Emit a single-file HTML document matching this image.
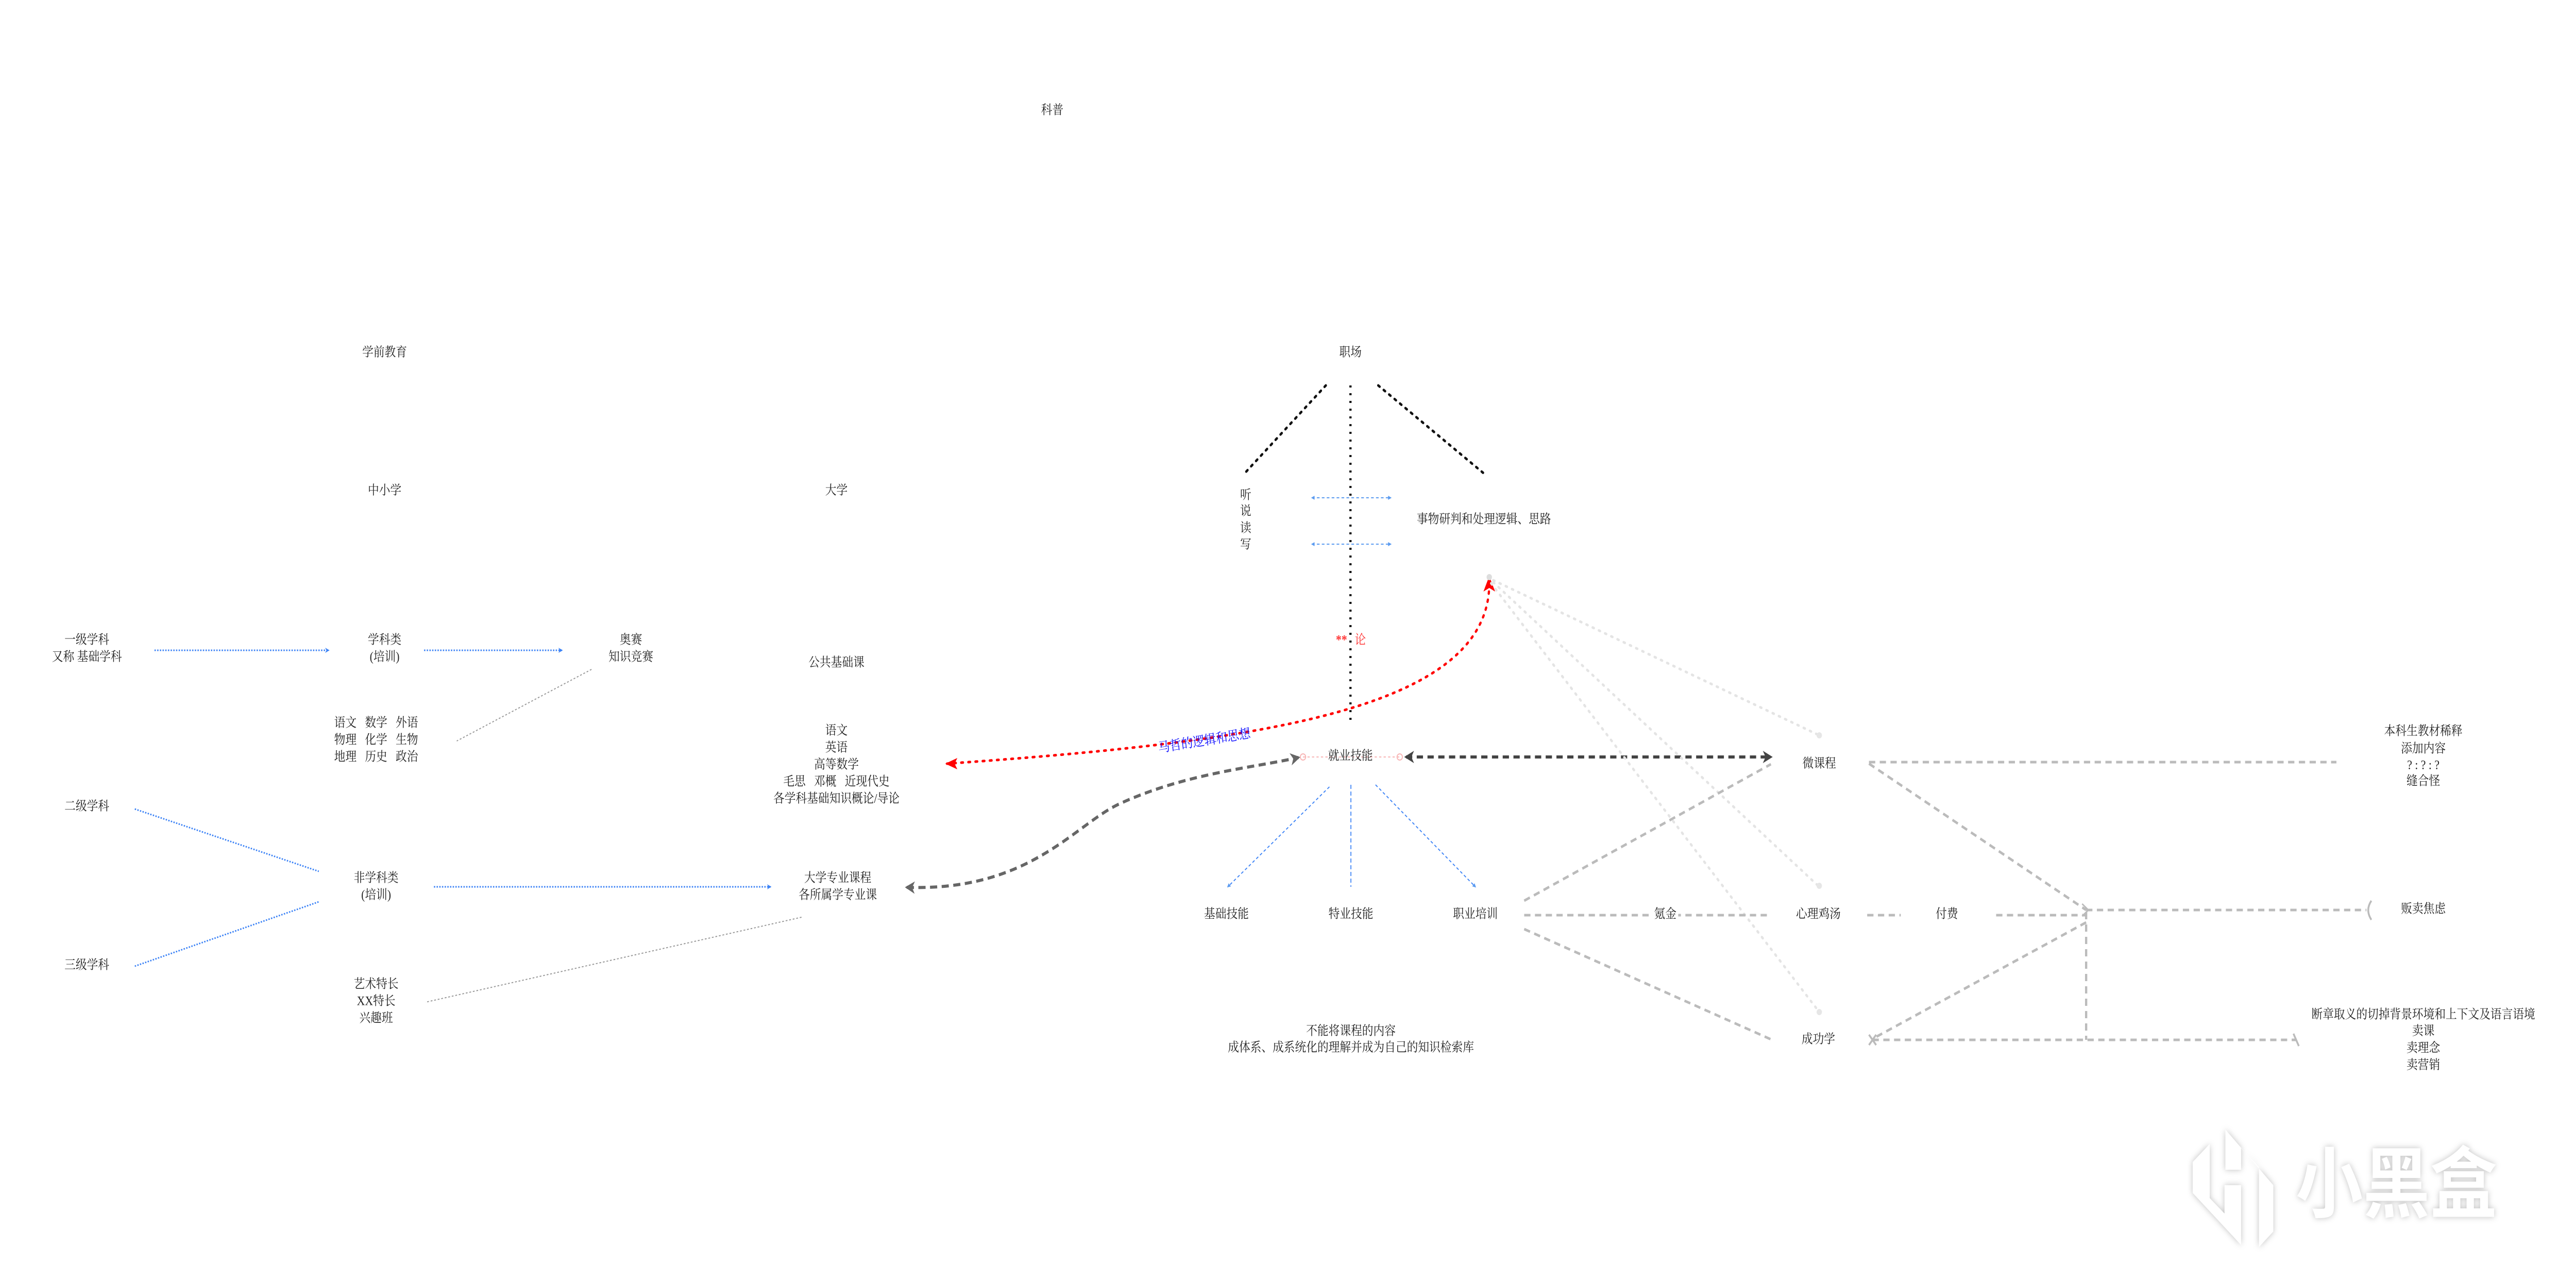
<!DOCTYPE html>
<html><head><meta charset="utf-8"><style>
html,body{margin:0;padding:0;background:#fff;width:100vw;height:100vh;overflow:hidden;}
svg{display:block;width:100vw;height:100vh;}
text{font-family:"Liberation Serif","Noto Serif CJK SC",serif;font-size:25px;fill:#222;text-anchor:middle;dominant-baseline:middle;}
</style></head><body>
<svg viewBox="0 0 5753 2484" preserveAspectRatio="none" xmlns="http://www.w3.org/2000/svg">
<defs>
<marker id="ab" markerWidth="10" markerHeight="10" refX="8" refY="5" orient="auto" markerUnits="userSpaceOnUse"><path d="M0,0 L10,5 L0,10 L3,5z" fill="#3b82f6"/></marker>
<marker id="abs" markerWidth="8" markerHeight="8" refX="6" refY="4" orient="auto-start-reverse" markerUnits="userSpaceOnUse"><path d="M0,0 L8,4 L0,8z" fill="#5b9bf0"/></marker>
<marker id="ad" markerWidth="22" markerHeight="24" refX="18" refY="12" orient="auto-start-reverse" markerUnits="userSpaceOnUse"><path d="M0,0 L22,12 L0,24 L6,12z" fill="#444"/></marker>
<marker id="ag" markerWidth="22" markerHeight="24" refX="18" refY="12" orient="auto-start-reverse" markerUnits="userSpaceOnUse"><path d="M0,0 L22,12 L0,24 L6,12z" fill="#666"/></marker>
</defs>

<text x="2350" y="216">科普</text>
<text x="859" y="686">学前教育</text>
<text x="3016" y="686">职场</text>
<text x="859" y="954">中小学</text>
<text x="1868" y="954">大学</text>

<text x="194" y="1244">一级学科</text>
<text x="194" y="1277">又称 基础学科</text>
<line x1="345" y1="1262" x2="734" y2="1262" stroke="#3b82f6" stroke-width="3" stroke-dasharray="3 3" marker-end="url(#ab)"/>
<text x="859" y="1244">学科类</text>
<text x="859" y="1277">(培训)</text>
<line x1="947" y1="1262" x2="1255" y2="1262" stroke="#3b82f6" stroke-width="3" stroke-dasharray="3 3" marker-end="url(#ab)"/>
<text x="1409" y="1244">奥赛</text>
<text x="1409" y="1277">知识竞赛</text>
<line x1="1321" y1="1299" x2="1020" y2="1438" stroke="#999" stroke-width="2" stroke-dasharray="4 4"/>
<text x="840" y="1405" xml:space="preserve">语文   数学   外语</text>
<text x="840" y="1438" xml:space="preserve">物理   化学   生物</text>
<text x="840" y="1471" xml:space="preserve">地理   历史   政治</text>

<text x="1868" y="1288">公共基础课</text>
<text x="1868" y="1420">语文</text>
<text x="1868" y="1453">英语</text>
<text x="1868" y="1486">高等数学</text>
<text x="1868" y="1519" xml:space="preserve">毛思   邓概   近现代史</text>
<text x="1868" y="1552">各学科基础知识概论/导论</text>

<text x="194" y="1567">二级学科</text>
<line x1="301" y1="1570" x2="712" y2="1691" stroke="#3b82f6" stroke-width="3" stroke-dasharray="3 3"/>
<text x="194" y="1875">三级学科</text>
<line x1="301" y1="1875" x2="712" y2="1750" stroke="#3b82f6" stroke-width="3" stroke-dasharray="3 3"/>
<text x="840" y="1706">非学科类</text>
<text x="840" y="1739">(培训)</text>
<line x1="969" y1="1721" x2="1721" y2="1721" stroke="#3b82f6" stroke-width="3" stroke-dasharray="3 3" marker-end="url(#ab)"/>
<text x="1871" y="1706">大学专业课程</text>
<text x="1871" y="1739">各所属学专业课</text>
<line x1="1790" y1="1780" x2="950" y2="1945" stroke="#999" stroke-width="2" stroke-dasharray="4 4"/>
<text x="840" y="1912">艺术特长</text>
<text x="840" y="1945">XX特长</text>
<text x="840" y="1978">兴趣班</text>

<line x1="2961" y1="748" x2="2777" y2="921" stroke="#111" stroke-width="5" stroke-dasharray="4 11" stroke-linecap="round"/>
<line x1="3016" y1="748" x2="3016" y2="1405" stroke="#111" stroke-width="5" stroke-dasharray="4 11"/>
<line x1="3078" y1="748" x2="3317" y2="921" stroke="#111" stroke-width="5" stroke-dasharray="4 11" stroke-linecap="round"/>
<text x="2782" y="963">听</text>
<text x="2782" y="994">说</text>
<text x="2782" y="1027">读</text>
<text x="2782" y="1059">写</text>
<line x1="2930" y1="966" x2="3106" y2="966" stroke="#5b9bf0" stroke-width="2" stroke-dasharray="6 5" marker-start="url(#abs)" marker-end="url(#abs)"/>
<line x1="2930" y1="1056" x2="3106" y2="1056" stroke="#5b9bf0" stroke-width="2" stroke-dasharray="6 5" marker-start="url(#abs)" marker-end="url(#abs)"/>
<text x="3314" y="1010">事物研判和处理逻辑、思路</text>
<text x="2996" y="1244" style="fill:#f33;font-weight:bold">**</text>
<text x="3038" y="1244" style="fill:#f33">论</text>

<path d="M3326,1132 C3326,1380 2800,1440 2115,1482" fill="none" stroke="#f00" stroke-width="5" stroke-dasharray="4 12" stroke-linecap="round"/>
<path d="M3326,1118 L3339,1148 L3326,1141 L3313,1148z" fill="#f00"/>
<path d="M2111,1482 L2138,1471 L2132,1482 L2138,1493z" fill="#f00"/>
<circle cx="3326" cy="1120" r="6" fill="#ddd"/>
<text x="2690" y="1440" transform="rotate(-8 2690 1440)" style="fill:#11f;font-size:26px">马哲的逻辑和思想</text>

<line x1="2910" y1="1469" x2="3126" y2="1469" stroke="#f8b4b4" stroke-width="2" stroke-dasharray="5 5"/>
<circle cx="2910" cy="1469" r="6" fill="none" stroke="#f8b4b4" stroke-width="2"/>
<circle cx="3126" cy="1469" r="6" fill="none" stroke="#f8b4b4" stroke-width="2"/>
<text x="3016" y="1469">就业技能</text>
<line x1="3140" y1="1469" x2="3955" y2="1469" stroke="#444" stroke-width="6" stroke-dasharray="14 10" marker-start="url(#ad)" marker-end="url(#ad)"/>
<path d="M2025,1722 C2300,1730 2400,1600 2500,1560 C2650,1500 2800,1490 2900,1470" fill="none" stroke="#666" stroke-width="6" stroke-dasharray="16 10" marker-start="url(#ag)" marker-end="url(#ag)"/>

<line x1="2969" y1="1527" x2="2742" y2="1721" stroke="#3b82f6" stroke-width="2" stroke-dasharray="6 5" marker-end="url(#abs)"/>
<line x1="3017" y1="1523" x2="3017" y2="1721" stroke="#3b82f6" stroke-width="2" stroke-dasharray="8 5"/>
<line x1="3072" y1="1523" x2="3295" y2="1721" stroke="#3b82f6" stroke-width="2" stroke-dasharray="6 5" marker-end="url(#abs)"/>
<text x="2739" y="1776">基础技能</text>
<text x="3017" y="1776">特业技能</text>
<text x="3295" y="1776">职业培训</text>
<text x="3017" y="2003">不能将课程的内容</text>
<text x="3017" y="2035">成体系、成系统化的理解并成为自己的知识检索库</text>

<g stroke="#e4e4e4" stroke-width="5" stroke-dasharray="3 12" stroke-linecap="round">
<line x1="3335" y1="1126" x2="4063" y2="1427"/>
<line x1="3335" y1="1130" x2="4063" y2="1721"/>
<line x1="3330" y1="1132" x2="4063" y2="1964"/>
</g>
<circle cx="4063" cy="1427" r="6" fill="#e6e6e6"/>
<circle cx="4063" cy="1719" r="6" fill="#e6e6e6"/>
<circle cx="4063" cy="1964" r="6" fill="#e6e6e6"/>

<g stroke="#bbb" stroke-width="5" stroke-dasharray="14 10" fill="none">
<line x1="3404" y1="1748" x2="3955" y2="1483"/>
<line x1="3404" y1="1776" x2="3955" y2="1776"/>
<line x1="3404" y1="1803" x2="3955" y2="2017"/>
<line x1="4174" y1="1479" x2="5218" y2="1479"/>
<line x1="4174" y1="1482" x2="4659" y2="1766"/>
<line x1="4170" y1="1776" x2="4245" y2="1776"/>
<line x1="4458" y1="1776" x2="4660" y2="1776"/>
<line x1="4659" y1="1766" x2="5285" y2="1766"/>
<line x1="4659" y1="1770" x2="4659" y2="2018"/>
<line x1="4659" y1="1790" x2="4182" y2="2016"/>
<line x1="4182" y1="2018" x2="5128" y2="2018"/>
</g>
<path d="M4650,1754 L4664,1766 L4650,1778" fill="none" stroke="#bbb" stroke-width="3"/>
<path d="M5296,1748 Q5282,1766 5296,1785" fill="none" stroke="#bbb" stroke-width="4"/>
<path d="M4174,2008 L4190,2028 M4190,2008 L4174,2028" stroke="#bbb" stroke-width="4"/>
<path d="M5122,2006 L5134,2030" stroke="#bbb" stroke-width="4"/>
<rect x="3690" y="1760" width="58" height="32" fill="#fff"/>
<text x="3719" y="1776">氪金</text>
<text x="4063" y="1484">微课程</text>
<text x="4061" y="1776">心理鸡汤</text>
<text x="4348" y="1776">付费</text>
<text x="4061" y="2019">成功学</text>

<text x="5412" y="1421">本科生教材稀释</text>
<text x="5412" y="1455">添加内容</text>
<text x="5412" y="1487">? : ? : ?</text>
<text x="5412" y="1518">缝合怪</text>
<text x="5412" y="1766">贩卖焦虑</text>
<text x="5412" y="1971">断章取义的切掉背景环境和上下文及语言语境</text>
<text x="5412" y="2003">卖课</text>
<text x="5412" y="2036">卖理念</text>
<text x="5412" y="2069">卖营销</text>

<g style="filter:drop-shadow(0 0 6px rgba(0,0,0,0.25))">
<path d="M4970,2192 L5077,2300 L5077,2390 L5045,2420 L5045,2265 L5005,2228 L5005,2270 L4970,2270z M4935,2220 L4935,2325 L4968,2355 L4968,2300 L5005,2300 L5005,2416 L4897,2315 L4897,2255z" fill="#fff"/>
<text x="5352" y="2310" style="font-family:'Noto Sans CJK SC',sans-serif;font-size:150px;fill:#fff;font-weight:bold">小黑盒</text>
</g>
</svg>
</body></html>
